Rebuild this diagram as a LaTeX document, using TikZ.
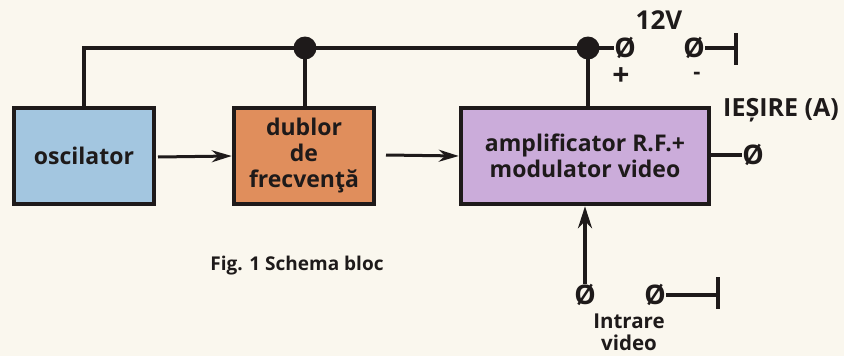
\documentclass[tikz,border=0pt]{standalone}
\usepackage{fontspec}
\setmainfont{Open Sans}
\usetikzlibrary{arrows.meta}
\definecolor{paper}{RGB}{250,247,238}
\definecolor{oscblue}{RGB}{163,198,224}
\definecolor{dubor}{RGB}{224,142,92}
\definecolor{amplil}{RGB}{203,172,218}
\definecolor{ink}{RGB}{30,26,26}
\begin{document}
\begin{tikzpicture}[x=1pt,y=-1pt,
  blk/.style={draw=ink,line width=4.5pt,align=center,font=\bfseries\fontsize{23}{26}\selectfont,text=ink,inner sep=0pt},
  wire/.style={draw=ink,line width=4.5pt},
  sig/.style={draw=ink,line width=3pt,-{Stealth[length=20pt,width=12pt]}},
  term/.style={font=\bfseries\fontsize{27}{28}\selectfont,text=ink,inner sep=0.3pt},
  lbl/.style={font=\bfseries\fontsize{23}{23}\selectfont,text=ink,align=center,inner sep=0pt},
  dot/.style={circle,fill=ink,minimum size=23pt,inner sep=0pt}]
\fill[paper] (0,0) rectangle (844,356);
\useasboundingbox (0,0) rectangle (844,356);
% blocks
\node[blk,fill=oscblue,minimum width=140pt,minimum height=96pt] (osc) at (84,156) {oscilator};
\node[blk,fill=dubor,minimum width=140pt,minimum height=96pt] (dub) at (304,156) {dublor\\de\\frecvenţă};
\node[blk,fill=amplil,minimum width=248pt,minimum height=96pt] (amp) at (585,156) {amplificator R.F.+\\modulator video};
% junctions
\coordinate (j1) at (305,48);
\coordinate (j2) at (588,48);
% terminals
\node[term] (tp) at (625,48) {Ø};
\node[term] (tm) at (694,48) {Ø};
\coordinate (gnd1) at (736,48);
\coordinate (gnd1a) at (736,33);
\coordinate (gnd1b) at (736,65);
\node[term] (out) at (753,155) {Ø};
\node[term] (in1) at (585,295) {Ø};
\node[term] (in2) at (655,295) {Ø};
\coordinate (gnd2) at (718,295);
\coordinate (gnd2a) at (718,277);
\coordinate (gnd2b) at (718,309);
% wires
\draw[wire] (osc.north) |- (j1) -- (j2) -- (tp.west);
\draw[wire] (dub.north -| j1) -- (j1);
\draw[wire] (amp.north -| j2) -- (j2);
\draw[wire] (tm.east) -- (gnd1);
\draw[wire] (gnd1a) -- (gnd1b);
\draw[wire] (amp.east |- out) -- (out.west);
\draw[wire] (in2.east) -- (gnd2);
\draw[wire] (gnd2a) -- (gnd2b);
\node[dot] at (j1) {};
\node[dot] at (j2) {};
% signal arrows
\draw[sig] (158,157) -- (osc.east -| dub.west);
\draw[sig] (386,155) -- (dub.east -| amp.west);
\draw[sig,line width=4.5pt,-{Stealth[length=22pt,width=14pt]}] (in1.north) -- (amp.south -| in1);
% labels
\node[lbl,font=\bfseries\fontsize{26}{26}\selectfont] (v12) at (659,20) {12V};
\node[lbl,font=\bfseries\fontsize{30}{30}\selectfont] (plus) at (621,77) {+};
\node[lbl,font=\bfseries\fontsize{22}{22}\selectfont] (minus) at (697,76) {-};
\node[lbl,font=\bfseries\fontsize{25}{25}\selectfont] (ies) at (781,110) {IEȘIRE (A)};
\node[lbl,font=\bfseries\fontsize{20.5}{22}\selectfont] (intr) at (629,332) {Intrare\\video};
\node[font=\bfseries\fontsize{19}{20}\selectfont,text=ink,inner sep=0pt] (fig) at (297,266) {Fig. 1 Schema bloc};
\end{tikzpicture}
\end{document}
